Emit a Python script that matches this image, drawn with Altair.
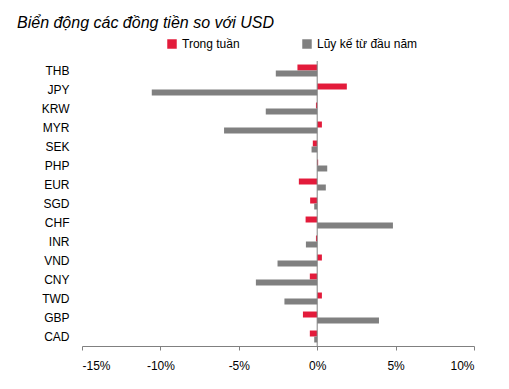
import altair as alt
import pandas as pd

currencies = ["THB", "JPY", "KRW", "MYR", "SEK", "PHP", "EUR", "SGD", "CHF", "INR",
              "VND", "CNY", "TWD", "GBP", "CAD"]
weekly = [-1.26, 1.89, -0.08, 0.30, -0.28, 0.06, -1.17, -0.45, -0.74, -0.08,
          0.30, -0.47, 0.30, -0.91, -0.47]
ytd = [-2.64, -10.55, -3.28, -5.94, -0.36, 0.64, 0.55, -0.19, 4.83, -0.72,
       -2.53, -3.91, -2.09, 3.94, -0.19]
series = ["Trong tuần", "Lũy kế từ đầu năm"]
colors = ["#E31B3B", "#808080"]
x_ticks = [-15, -10, -5, 0, 5, 10]

rows = []
for i, c in enumerate(currencies):
    rows.append({"cur": c, "series": series[0], "order": 0, "value": weekly[i]})
    rows.append({"cur": c, "series": series[1], "order": 1, "value": ytd[i]})
df = pd.DataFrame(rows)

FONT = "Liberation Sans"

bars = alt.Chart(df).mark_bar().encode(
    x=alt.X("value:Q",
            scale=alt.Scale(domain=[-15, 10], nice=False, zero=False),
            axis=alt.Axis(values=x_ticks, labelExpr="datum.value + '%'", title=None,
                          grid=False, domainColor="#808080", tickColor="#808080",
                          tickSize=4, labelFontSize=12, labelFont=FONT,
                          labelColor="#000000", labelPadding=10)),
    y=alt.Y("cur:N", sort=currencies,
            scale=alt.Scale(paddingInner=0.37, paddingOuter=0.185),
            axis=alt.Axis(title=None, domain=False, ticks=False, labelFontSize=12,
                          labelFont=FONT, labelColor="#000000", labelPadding=13)),
    yOffset=alt.YOffset("order:O"),
    color=alt.Color("series:N", sort=series,
                    scale=alt.Scale(domain=series, range=colors),
                    legend=alt.Legend(title=None, orient="none", direction="horizontal",
                                      legendX=84, legendY=-23, symbolType="square",
                                      symbolSize=90, symbolStrokeWidth=0,
                                      labelFontSize=12, labelFont=FONT,
                                      labelColor="#000000", columnPadding=61,
                                      symbolOpacity=1)),
)

zero = alt.Chart(pd.DataFrame({"z": [0]})).mark_rule(color="#808080", strokeWidth=1).encode(
    x=alt.X("z:Q")
)

chart = alt.layer(bars, zero).properties(
    width=392, height=285,
    title=alt.Title("Biển động các đồng tiền so với USD", anchor="start", frame="group",
                    dx=-65, offset=7, font=FONT, fontStyle="italic",
                    fontWeight="normal", fontSize=16, color="#000000"),
    autosize=alt.AutoSizeParams(type="none"),
    padding={"left": 74, "top": 53, "right": 20, "bottom": 30},
).configure_view(stroke=None)

chart.save("out.html", embed_options={"renderer": "svg", "actions": False})
